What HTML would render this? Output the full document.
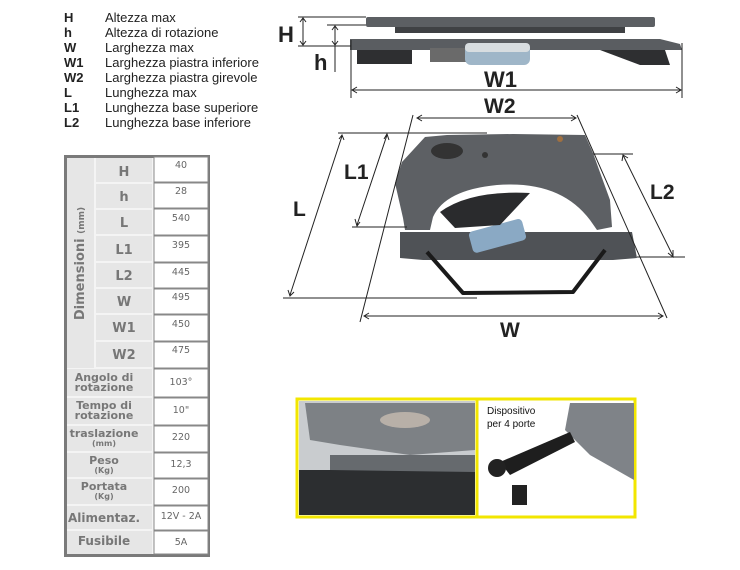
<!DOCTYPE html>
<html><head><meta charset="utf-8"><style>
body{margin:0;width:740px;height:570px;background:#fff;position:relative;overflow:hidden;font-family:"Liberation Sans",Arial,sans-serif}
.lg{position:absolute;left:64px;font-size:13px;color:#222;line-height:15px}
.lg b{display:inline-block;width:41px}
.t{position:absolute;border-collapse:collapse}
.c{position:absolute;display:flex;align-items:center;justify-content:center;text-align:center;color:#666;font-family:"DejaVu Sans",sans-serif}
.k{background:#e6e6e6;font-weight:bold;color:#777;font-size:13px}
.v{background:#fff;border:1px solid #888;font-size:10px;color:#666}
</style></head><body>
<div class="lg" style="top:10px"><b>H</b>Altezza max<br><b>h</b>Altezza di rotazione<br><b>W</b>Larghezza max<br><b>W1</b>Larghezza piastra inferiore<br><b>W2</b>Larghezza piastra girevole<br><b>L</b>Lunghezza max<br><b>L1</b>Lunghezza base superiore<br><b>L2</b>Lunghezza base inferiore</div>

<div style="position:absolute;left:64px;top:155px;width:146px;height:402px;background:#f4f4f4;border:3px solid #7a7a7a;box-sizing:border-box"></div>
<div class="c k" style="left:67px;top:158px;width:27px;height:210px;"><div style="transform:rotate(-90deg);white-space:nowrap;font-size:13px">Dimensioni <span style="font-size:9px">(mm)</span></div></div>
<div id="rows"></div>
<svg width="740" height="570" style="position:absolute;left:0;top:0" xmlns="http://www.w3.org/2000/svg" font-family="Liberation Sans, Arial, sans-serif">
<g font-family="DejaVu Sans, sans-serif" text-anchor="middle">
<!-- key cells -->
<g fill="#e6e6e6">
<rect x="96" y="158" width="56" height="24"/><rect x="96" y="184" width="56" height="24"/><rect x="96" y="210" width="56" height="24"/><rect x="96" y="236" width="56" height="25"/><rect x="96" y="263" width="56" height="24"/><rect x="96" y="289" width="56" height="24"/><rect x="96" y="315" width="56" height="25"/><rect x="96" y="342" width="56" height="25"/>
<rect x="67" y="369" width="85" height="27"/><rect x="67" y="398" width="85" height="26"/><rect x="67" y="426" width="85" height="25"/><rect x="67" y="453" width="85" height="24"/><rect x="67" y="479" width="85" height="25"/><rect x="67" y="506" width="85" height="23"/><rect x="67" y="531" width="85" height="23"/>
</g>
<g fill="#fff" stroke="#888" stroke-width="1">
<rect x="154" y="157" width="54" height="25"/><rect x="154" y="183" width="54" height="25"/><rect x="154" y="209" width="54" height="26"/><rect x="154" y="236" width="54" height="26"/><rect x="154" y="263" width="54" height="25"/><rect x="154" y="289" width="54" height="25"/><rect x="154" y="315" width="54" height="26"/><rect x="154" y="342" width="54" height="26"/>
<rect x="154" y="369" width="54" height="28"/><rect x="154" y="398" width="54" height="27"/><rect x="154" y="426" width="54" height="26"/><rect x="154" y="453" width="54" height="25"/><rect x="154" y="479" width="54" height="26"/><rect x="154" y="506" width="54" height="24"/><rect x="154" y="531" width="54" height="23"/>
</g>
<g fill="#777" font-weight="bold" font-size="13">
<text x="124" y="176">H</text><text x="124" y="201">h</text><text x="124" y="227">L</text><text x="124" y="254">L1</text><text x="124" y="280">L2</text><text x="124" y="306">W</text><text x="124" y="332">W1</text><text x="124" y="359">W2</text>
</g>
<g fill="#777" font-weight="bold" font-size="11">
<text x="104" y="381">Angolo di</text><text x="104" y="391">rotazione</text>
<text x="104" y="409">Tempo di</text><text x="104" y="419">rotazione</text>
<text x="104" y="437">traslazione</text><text x="104" y="446" font-size="8">(mm)</text>
<text x="104" y="464">Peso</text><text x="104" y="473" font-size="8">(Kg)</text>
<text x="104" y="490">Portata</text><text x="104" y="499" font-size="8">(Kg)</text>
<text x="104" y="522" font-size="12">Alimentaz.</text>
<text x="104" y="545" font-size="12">Fusibile</text>
</g>
<g fill="#666" font-size="9.5">
<text x="181" y="168">40</text><text x="181" y="194">28</text><text x="181" y="221">540</text><text x="181" y="248">395</text><text x="181" y="275">445</text><text x="181" y="300">495</text><text x="181" y="327">450</text><text x="181" y="353">475</text>
<text x="181" y="385">103°</text><text x="181" y="413">10"</text><text x="181" y="440">220</text><text x="181" y="467">12,3</text><text x="181" y="493">200</text><text x="181" y="519">12V - 2A</text><text x="181" y="545">5A</text>
</g>
</g>

<!-- side view -->
<rect x="366" y="17" width="289" height="10" rx="2" fill="#5c5f63"/>
<rect x="395" y="27" width="230" height="6" fill="#3f4144"/>
<path d="M350 39 L660 39 L680 44 L682 50 L350 50 Z" fill="#5a5d61"/>
<rect x="357" y="50" width="55" height="14" fill="#2e2f31"/>
<path d="M600 50 L665 50 L670 65 L640 65 Z" fill="#2e2f31"/>
<rect x="430" y="48" width="40" height="14" fill="#6a6a6a"/>
<rect x="465" y="43" width="65" height="22" rx="6" fill="#9fb6c8"/>
<rect x="465" y="43" width="65" height="9" rx="4" fill="#d8dde0"/>
<g stroke="#222" stroke-width="1" fill="none">
<path d="M298 17 H366 M298 46 H351 M327 25 H366 M335 46 V72 M351 40 V98 M682 43 V98"/>
<path d="M303 19 V44 M300 22 L303 18 L306 22 M300 41 L303 45 L306 41"/>
<path d="M335 27 V44 M332 30 L335 26 L338 30 M332 41 L335 45 L338 41"/>
<path d="M353 90 H680 M357 87 L352 90 L357 93 M676 87 L681 90 L676 93"/>
</g>
<text x="278" y="42" font-size="22" font-weight="bold" fill="#222">H</text>
<text x="314" y="70" font-size="22" font-weight="bold" fill="#222">h</text>
<text x="484" y="87" font-size="22" font-weight="bold" fill="#222">W1</text>

<!-- main drawing -->
<path d="M400 232 L632 232 L637 258 L613 260 L423 260 L400 258 Z" fill="#4f5256"/>
<path d="M427 252 L463 293 L573 292 L605 250" fill="none" stroke="#1a1a1a" stroke-width="4" stroke-linejoin="round"/>
<rect x="470" y="225" width="55" height="22" rx="4" fill="#8aa9c4" transform="rotate(-15 497 236)"/>
<path d="M425 137 L447 135 L513 134 L585 135 L593 153 L610 200 L612 227 L597 230 L590 220 Q560 180 497 185 Q445 190 433 217 L430 230 L405 230 L403 218 L395 183 L402 162 Z" fill="#5d6064"/>
<path d="M440 212 Q470 190 530 193 L500 225 L455 228 Z" fill="#2a2b2d"/>
<ellipse cx="447" cy="151" rx="16" ry="8" fill="#333"/>
<circle cx="485" cy="155" r="3" fill="#333"/>
<circle cx="560" cy="139" r="3" fill="#a07040"/>
<g stroke="#222" stroke-width="1" fill="none">
<path d="M418 118 H575 M422 115 L417 118 L422 121 M571 115 L576 118 L571 121"/>
<path d="M413 115 L360 322 M577 115 L667 318"/>
<path d="M365 316 H662 M369 313 L364 316 L369 319 M658 313 L663 316 L658 319"/>
<path d="M338 133 H487 M283 298 H477 M342 136 L290 295 M339 139 L342 135 L344 140 M288 290 L290 296 L294 292"/>
<path d="M387 135 L357 225 M384 139 L387 134 L389 140 M355 219 L357 226 L360 222 M352 227 H407"/>
<path d="M593 154 H633 M637 257 H685 M623 155 L673 256 M622 161 L623 155 L628 158 M668 253 L673 257 L673 250"/>
</g>
<g font-size="21" font-weight="bold" fill="#222">
<text x="484" y="113">W2</text><text x="344" y="179">L1</text><text x="293" y="216">L</text><text x="650" y="199">L2</text><text x="500" y="337">W</text>
</g>

<!-- photos -->
<rect x="297" y="399" width="338" height="118" fill="#fff" stroke="#f2e600" stroke-width="3"/>
<line x1="477" y1="399" x2="477" y2="517" stroke="#f2e600" stroke-width="3"/>
<rect x="299" y="401" width="176" height="114" fill="#c9cccf"/>
<path d="M305 403 L475 403 L475 450 L410 455 L340 445 L310 440 Z" fill="#7d8185"/>
<ellipse cx="405" cy="420" rx="25" ry="8" fill="#b8b0a8"/>
<path d="M299 470 L475 470 L475 515 L299 515 Z" fill="#2c2e30"/>
<path d="M330 455 L475 455 L475 472 L330 470 Z" fill="#666a6e"/>
<path d="M570 403 L634 403 L634 480 L590 455 L565 430 Z" fill="#7f8388"/>
<path d="M500 462 L570 432 L575 442 L510 475 Z" fill="#1e1e1e"/>
<circle cx="497" cy="468" r="9" fill="#222"/>
<rect x="512" y="485" width="15" height="20" fill="#222"/>
<text x="487" y="414" font-size="10" fill="#111">Dispositivo</text>
<text x="487" y="427" font-size="10" fill="#111">per 4 porte</text>
</svg>
</body></html>
